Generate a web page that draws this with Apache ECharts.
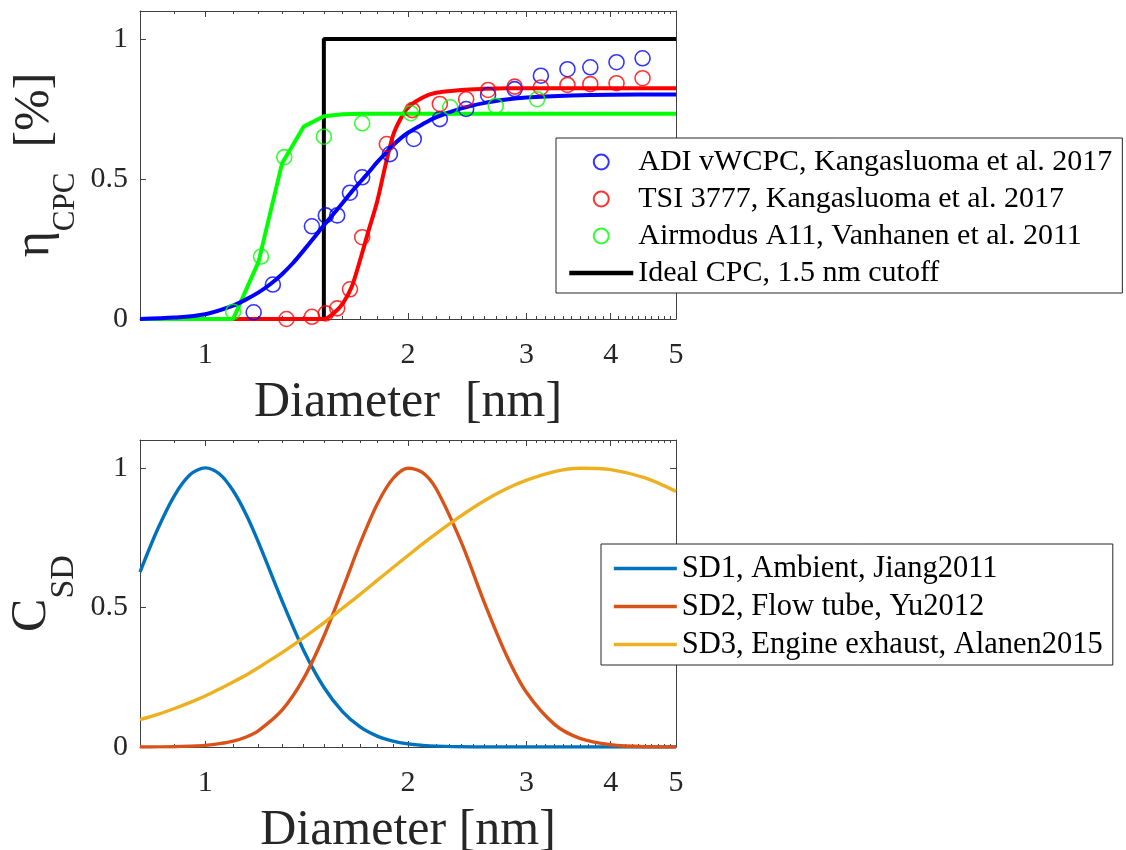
<!DOCTYPE html>
<html>
<head>
<meta charset="utf-8">
<script src="https://cdn.jsdelivr.net/npm/echarts@6/dist/echarts.min.js"></script>
<style>
  html, body { margin: 0; padding: 0; background: #ffffff; }
  #chart { width: 1126px; height: 850px; }
</style>
</head>
<body>
<div id="chart"></div>
<script>
// ---------- CPC detection efficiency (top panel) ----------
const adiDiam = [1.18, 1.26, 1.44, 1.51, 1.57, 1.64, 1.71, 1.88, 2.04, 2.23, 2.44, 2.63, 2.88, 3.15, 3.45, 3.73, 4.08, 4.46];
const adiEff  = [0.024, 0.123, 0.331, 0.37, 0.37, 0.451, 0.506, 0.589, 0.643, 0.714, 0.75, 0.80, 0.821, 0.869, 0.892, 0.899, 0.917, 0.931];

const tsiDiam = [1.32, 1.44, 1.51, 1.57, 1.64, 1.71, 1.86, 2.03, 2.23, 2.44, 2.63, 2.88, 3.15, 3.45, 3.73, 4.08, 4.46];
const tsiEff  = [0.0, 0.008, 0.02, 0.038, 0.106, 0.292, 0.625, 0.746, 0.768, 0.785, 0.818, 0.83, 0.827, 0.836, 0.839, 0.842, 0.86];

const a11Diam = [1.10, 1.21, 1.31, 1.50, 1.71, 2.02, 2.31, 2.70, 3.11];
const a11Eff  = [0.026, 0.223, 0.578, 0.651, 0.699, 0.735, 0.756, 0.761, 0.785];

// fitted curves
const fitDiam = [0.8, 0.9, 1.0, 1.1, 1.15, 1.2, 1.25, 1.3, 1.35, 1.4, 1.45, 1.5, 1.55, 1.6, 1.65, 1.7,
                 1.75, 1.8, 1.85, 1.9, 1.95, 2.0, 2.1, 2.2, 2.4, 2.6, 2.8, 3.0, 3.5, 4.0, 5.0];
const adiFit = [0.0, 0.005, 0.017, 0.048, 0.07, 0.095, 0.125, 0.16, 0.2, 0.245, 0.29, 0.335, 0.375, 0.415, 0.455, 0.49,
                0.525, 0.56, 0.59, 0.62, 0.645, 0.665, 0.695, 0.72, 0.752, 0.772, 0.784, 0.791, 0.798, 0.801, 0.802];
const tsiFit = [0, 0, 0, 0, 0, 0, 0, 0, 0, 0, 0, 0, 0.02, 0.055, 0.115, 0.215,
                0.32, 0.42, 0.545, 0.655, 0.715, 0.755, 0.79, 0.808, 0.818, 0.822, 0.824, 0.824, 0.824, 0.824, 0.824];
const a11FitDiam = [0.8, 1.1, 1.2, 1.3, 1.4, 1.5, 1.6, 1.7, 1.8, 5.0];
const a11Fit     = [0, 0, 0.205, 0.555, 0.687, 0.724, 0.731, 0.733, 0.733, 0.733];

// ideal step response with a 1.5 nm cutoff
const idealDiam = [0.8, 1.5, 1.5, 5.0];
const idealEff  = [0, 0, 1, 1];

// ---------- normalised size distributions (bottom panel) ----------
const sdDiam = [0.8, 0.85, 0.9, 0.95, 1.0, 1.05, 1.1, 1.15, 1.2, 1.3, 1.4, 1.5, 1.6, 1.7,
                1.8, 1.9, 2.0, 2.1, 2.2, 2.4, 2.6, 2.8, 3.0, 3.3, 3.6, 4.0, 4.5, 5.0];
const sd1 = [0.627, 0.781, 0.901, 0.976, 1.0, 0.978, 0.918, 0.833, 0.732, 0.524, 0.346, 0.214, 0.126, 0.071,
             0.039, 0.021, 0.011, 0.006, 0.003, 0.001, 0, 0, 0, 0, 0, 0, 0, 0];
const sd2 = [0.0001, 0.0004, 0.001, 0.003, 0.006, 0.012, 0.021, 0.036, 0.059, 0.132, 0.246, 0.397, 0.567, 0.733,
             0.870, 0.962, 0.999, 0.984, 0.927, 0.733, 0.514, 0.329, 0.195, 0.081, 0.031, 0.008, 0.001, 0.0002];
const sd3 = [0.098, 0.117, 0.138, 0.160, 0.183, 0.208, 0.233, 0.258, 0.285, 0.338, 0.392, 0.445, 0.498, 0.548,
             0.597, 0.643, 0.686, 0.727, 0.764, 0.829, 0.883, 0.925, 0.956, 0.987, 0.999, 0.994, 0.964, 0.916];

// ---------- axis ticks and labels ----------
const xMajorTicks = [1, 2, 3, 4, 5];
const xMinorTicks = [0.9, 1.1, 1.2, 1.3, 1.4, 1.5, 1.6, 1.7, 1.8, 1.9,
                     2.1, 2.2, 2.3, 2.4, 2.5, 2.6, 2.7, 2.8, 2.9,
                     3.1, 3.2, 3.3, 3.4, 3.5, 3.6, 3.7, 3.8, 3.9,
                     4.1, 4.2, 4.3, 4.4, 4.5, 4.6, 4.7, 4.8, 4.9];
const yTicks = [0, 0.5, 1];

const topLegend = ['ADI vWCPC, Kangasluoma et al. 2017', 'TSI 3777, Kangasluoma et al. 2017',
                   'Airmodus A11, Vanhanen et al. 2011', 'Ideal CPC, 1.5 nm cutoff'];
const bottomLegend = ['SD1, Ambient, Jiang2011', 'SD2, Flow tube, Yu2012', 'SD3, Engine exhaust, Alanen2015'];

const FONT = '"Liberation Serif", "Times New Roman", serif';
const AX = '#404040';
const TXT = '#262626';

function pairs(xs, ys) { return xs.map((x, i) => [x, ys[i]]); }

function xAxesFor(gridIndex, name) {
  const base = {
    type: 'log', logBase: 10, min: 0.8, max: 5, gridIndex,
    splitLine: { show: false }, minorTick: { show: false }, minorSplitLine: { show: false }
  };
  const major = (position, withLabels) => Object.assign({}, base, {
    position,
    axisLine: { show: true, onZero: false, lineStyle: { color: AX, width: 1 } },
    axisTick: { show: true, inside: true, length: 6, customValues: xMajorTicks, lineStyle: { color: AX, width: 1 } },
    axisLabel: withLabels ? {
      show: true, customValues: xMajorTicks, margin: 21,
      fontFamily: FONT, fontSize: 30, color: TXT,
      formatter: v => String(Math.round(v * 10) / 10)
    } : { show: false },
    name: withLabels ? name : '',
    nameLocation: 'middle', nameGap: 59, nameMoveOverlap: false,
    nameTextStyle: { fontFamily: FONT, fontSize: 50, color: TXT }
  });
  const minor = position => Object.assign({}, base, {
    position,
    axisLine: { show: false, onZero: false },
    axisTick: { show: true, inside: true, length: 3, customValues: xMinorTicks, lineStyle: { color: AX, width: 1 } },
    axisLabel: { show: false }
  });
  return [major('bottom', true), minor('bottom'), major('top', false), minor('top')];
}

function yAxesFor(gridIndex, name, mainPad, subSize) {
  const base = {
    type: 'value', gridIndex, min: 0, max: 1.1,
    splitLine: { show: false },
    axisLine: { show: true, onZero: false, lineStyle: { color: AX, width: 1 } },
    axisTick: { show: true, inside: true, length: 6, customValues: yTicks, lineStyle: { color: AX, width: 1 } }
  };
  return [
    Object.assign({}, base, {
      position: 'left',
      axisLabel: { show: true, customValues: yTicks, margin: 12, fontFamily: FONT, fontSize: 30, color: TXT },
      name, nameLocation: 'middle', nameRotate: 90, nameGap: 59, nameMoveOverlap: false,
      nameTextStyle: {
        fontFamily: FONT, color: TXT,
        rich: {
          m: { fontFamily: FONT, fontSize: 50, color: TXT, verticalAlign: 'bottom', padding: [0, 0, mainPad, 0] },
          s: { fontFamily: FONT, fontSize: subSize, color: TXT, verticalAlign: 'bottom' }
        }
      }
    }),
    Object.assign({}, base, { position: 'right', axisLabel: { show: false } })
  ];
}

function curve(name, xs, ys, color, width, xi, yi, smooth) {
  return {
    type: 'line', name, xAxisIndex: xi, yAxisIndex: yi, data: pairs(xs, ys),
    showSymbol: false, symbol: 'none', smooth: smooth,
    lineStyle: { color, width }, itemStyle: { color }, silent: true, z: 2
  };
}

function circles(name, xs, ys, color) {
  return {
    type: 'scatter', name, xAxisIndex: 0, yAxisIndex: 0, data: pairs(xs, ys),
    symbol: 'circle', symbolSize: 15,
    itemStyle: { color: 'rgba(0,0,0,0)', borderColor: color, borderWidth: 1.6 }, z: 3
  };
}

// legend entries for plain lines: draw only the line, no marker
const lineEntry = width => name => ({ name, itemStyle: { opacity: 0 }, lineStyle: { width } });

const legendBase = {
  orient: 'vertical', itemGap: 7, itemHeight: 15, padding: [9, 10, 5, 11],
  borderColor: '#262626', borderWidth: 1, backgroundColor: '#ffffff',
  selectedMode: false, align: 'left',
  textStyle: { fontFamily: FONT, fontSize: 30, color: '#000000', lineHeight: 30 }
};

const chart = echarts.init(document.getElementById('chart'), null, { renderer: 'canvas' });

chart.setOption({
  animation: false,
  backgroundColor: '#ffffff',
  grid: [
    { left: 140, right: 450, top: 11, height: 308, containLabel: false, outerBoundsMode: 'none' },
    { left: 140, right: 450, top: 440, height: 307, containLabel: false, outerBoundsMode: 'none' }
  ],
  xAxis: xAxesFor(0, 'Diameter  [nm]').concat(xAxesFor(1, 'Diameter [nm]')),
  yAxis: yAxesFor(0, '{m|η}{s|CPC}{m|  [%]}', 21, 31).concat(yAxesFor(1, '{m|C}{s|SD}', 24, 34)),
  legend: [
    Object.assign({}, legendBase, {
      data: [topLegend[0], topLegend[1], topLegend[2], lineEntry(4.5)(topLegend[3])],
      left: 556, top: 138, itemWidth: 64
    }),
    Object.assign({}, legendBase, {
      data: bottomLegend.map(lineEntry(3.6)),
      left: 601, top: 544, itemWidth: 63,
      textStyle: { fontFamily: FONT, fontSize: 30.5, color: '#000000', lineHeight: 30 }
    })
  ],
  series: [
    curve(topLegend[3], idealDiam, idealEff, '#000000', 4, 0, 0, false),
    curve('TSI fit', fitDiam, tsiFit, '#ff0000', 4, 0, 0, 0.3),
    curve('A11 fit', a11FitDiam, a11Fit, '#00ff00', 4, 0, 0, false),
    curve('ADI fit', fitDiam, adiFit, '#0000ff', 4, 0, 0, 0.3),
    circles(topLegend[0], adiDiam, adiEff, '#0000ff'),
    circles(topLegend[1], tsiDiam, tsiEff, '#ff0000'),
    circles(topLegend[2], a11Diam, a11Eff, '#00ff00'),
    curve(bottomLegend[0], sdDiam, sd1, '#0072BD', 3.4, 4, 2, 0.3),
    curve(bottomLegend[1], sdDiam, sd2, '#D95319', 3.4, 4, 2, 0.3),
    curve(bottomLegend[2], sdDiam, sd3, '#EDB120', 3.4, 4, 2, 0.3)
  ]
});
</script>
</body>
</html>
